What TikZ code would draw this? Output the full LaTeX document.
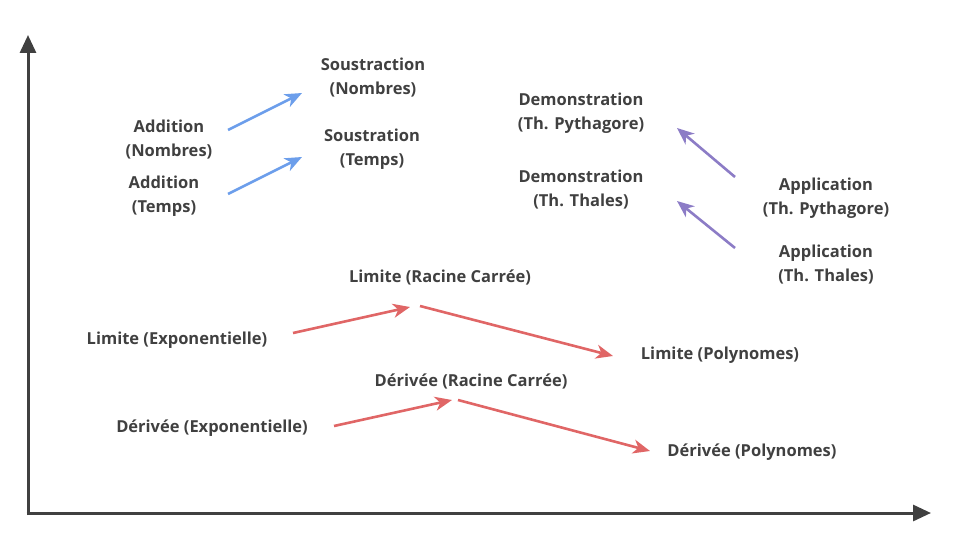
\documentclass[tikz,border=0pt]{standalone}
\usepackage{fontspec}
\setmainfont{Open Sans}
\usepackage{xcolor}
\usetikzlibrary{arrows.meta}

\definecolor{axisgray}{HTML}{404040}
\definecolor{txtgray}{HTML}{404040}
\definecolor{arrblue}{HTML}{6C9EEB}
\definecolor{arrpurple}{HTML}{8C7CC6}
\definecolor{arrred}{HTML}{E06666}

\tikzset{
  topic/.style={font=\fontsize{16.5}{24}\selectfont\bfseries, text=txtgray,
    align=center, inner sep=0pt},
  link/.style={line width=2.6pt, -{Stealth[length=17pt,width=14pt,inset=5pt]}},
  bluelink/.style={link, draw=arrblue},
  purplelink/.style={link, draw=arrpurple},
  redlink/.style={link, draw=arrred},
}

\begin{document}
\begin{tikzpicture}[x=1pt,y=-1pt]
    \useasboundingbox (0,0) rectangle (960,540);
    \begin{scope}[topic]
      % arithmetique
      \node (addnomb)  at (169,140) {Addition\\(Nombres)};
      \node (addtemps) at (164,196) {Addition\\(Temps)};
      \node (sousnomb) at (373,78)  {Soustraction\\(Nombres)};
      \node (soustemps) at (372,149) {Soustration\\(Temps)};

      % geometrie
      \node (dempyth) at (581,113) {Demonstration\\(Th. Pythagore)};
      \node (demthal) at (581,190) {Demonstration\\(Th. Thales)};
      \node (apppyth) at (826,198) {Application\\(Th. Pythagore)};
      \node (appthal) at (826,265) {Application\\(Th. Thales)};

      % analyse
      \node (limrac) at (440,277) {Limite (Racine Carrée)};
      \node (limexp) at (177,340) {Limite (Exponentielle)};
      \node (limpoly) at (720,355) {Limite (Polynomes)};
      \node (derrac) at (471,381) {Dérivée (Racine Carrée)};
      \node (derexp) at (212,428) {Dérivée (Exponentielle)};
      \node (derpoly) at (752,452) {Dérivée (Polynomes)};
    \end{scope}

    \draw [bluelink] ([shift={(59,-10)}]addnomb.center) -- ([shift={(-71,15)}]sousnomb.center);
    \draw [bluelink] ([shift={(64,-2)}]addtemps.center) -- ([shift={(-70,8)}]soustemps.center);

    \draw [purplelink] ([shift={(-91,-21)}]apppyth.center) -- ([shift={(96,15)}]dempyth.center);
    \draw [purplelink] ([shift={(-91,-17)}]appthal.center) -- ([shift={(96,11)}]demthal.center);

    \draw [redlink] ([shift={(116,-7)}]limexp.center) -- ([shift={(-30,30)}]limrac.center);
    \draw [redlink] ([shift={(-20,29)}]limrac.center) -- ([shift={(-107,1)}]limpoly.center);
    \draw [redlink] ([shift={(122,-2)}]derexp.center) -- ([shift={(-19,19)}]derrac.center);
    \draw [redlink] ([shift={(-13,19)}]derrac.center) -- ([shift={(-102,-1)}]derpoly.center);

    \draw [line width=3pt, draw=axisgray, -{Triangle[length=18pt,width=16pt]}]
      (28,515) -- (28,35);
    \draw [line width=3pt, draw=axisgray, -{Triangle[length=18pt,width=16pt]}]
      (26.5,513) -- (931,513);
\end{tikzpicture}
\end{document}
